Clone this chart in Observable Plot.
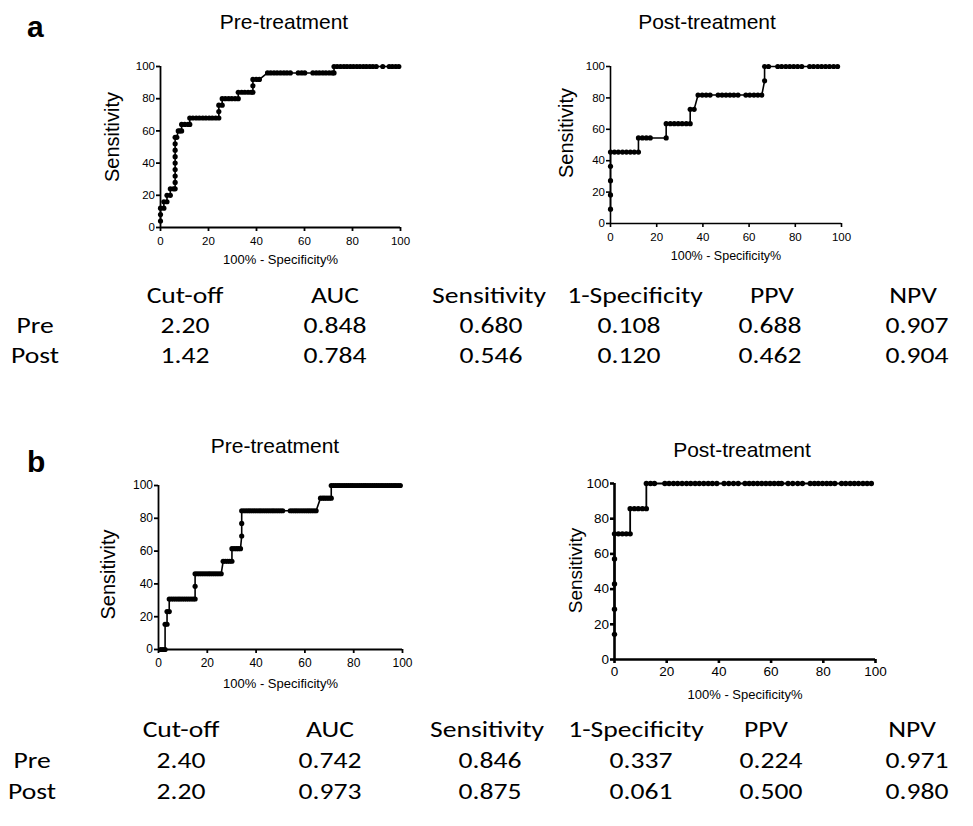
<!DOCTYPE html>
<html><head><meta charset="utf-8">
<script src="https://cdn.jsdelivr.net/npm/d3@7"></script>
<script src="https://cdn.jsdelivr.net/npm/@observablehq/plot@0.6"></script>
<style>
body{margin:0;background:#fff;}
#root{position:relative;width:973px;height:826px;overflow:hidden;font-family:"Liberation Sans",Arial,sans-serif;background:#fff;}
#root .pl{position:absolute;}
#overlay{position:absolute;left:0;top:0;pointer-events:none;}
</style></head><body><div id="root"></div>
<script>
// ---------------- DATA ----------------
const xTicks = [0, 20, 40, 60, 80, 100];
const yTicks = [0, 20, 40, 60, 80, 100];
const xLabel = "100% - Specificity%";
const yLabel = "Sensitivity";
const panelTitles = ["Pre-treatment", "Post-treatment"];
const panelLetters = ["a", "b"];

// ROC points [100% - Specificity%, Sensitivity%]
const rocPreA = [[0,4],[0,8],[0,12],[1.4,12],[1.4,16],[2.7,16],[2.7,20],[4.1,20],[4.1,24],[5.4,24],[6.1,24],[6.1,28],[6.1,32],[6.1,36],[6.1,40],[6.1,44],[6.1,48],[6.1,52],[6.1,56],[6.8,56],[7.4,60],[8.1,60],[8.8,60],[8.8,64],[10.1,64],[11.5,64],[12.2,64],[12.2,68],[13.5,68],[14.9,68],[16.2,68],[17.6,68],[18.9,68],[20.3,68],[21.6,68],[23.0,68],[24.3,68],[24.3,72],[24.3,76],[25.7,76],[25.7,80],[27.0,80],[28.4,80],[29.7,80],[31.1,80],[32.4,80],[32.4,84],[33.8,84],[35.1,84],[36.5,84],[37.8,84],[38.5,84],[38.5,88],[38.5,92],[39.9,92],[41.2,92],[44.6,96],[45.9,96],[47.3,96],[48.6,96],[50.0,96],[51.4,96],[52.7,96],[54.1,96],[57.4,96],[58.8,96],[60.1,96],[63.5,96],[64.9,96],[66.2,96],[67.6,96],[68.9,96],[70.3,96],[71.6,96],[72.3,96],[72.3,100],[73.6,100],[75.0,100],[76.4,100],[77.7,100],[79.1,100],[80.4,100],[81.8,100],[83.1,100],[84.5,100],[85.8,100],[87.2,100],[88.5,100],[89.9,100],[92.6,100],[95.3,100],[96.6,100],[98.0,100],[99.3,100]];

const rocPostA = [[0,9.1],[0,18.2],[0,27.3],[0,36.4],[0,45.5],[1.7,45.5],[3.4,45.5],[5.2,45.5],[6.9,45.5],[8.6,45.5],[10.3,45.5],[12.1,45.5],[12.1,54.5],[13.8,54.5],[15.5,54.5],[17.2,54.5],[24.1,54.5],[24.1,63.6],[25.9,63.6],[27.6,63.6],[29.3,63.6],[31.0,63.6],[32.8,63.6],[34.5,63.6],[34.5,72.7],[36.2,72.7],[37.9,81.8],[39.7,81.8],[41.4,81.8],[43.1,81.8],[46.6,81.8],[48.3,81.8],[50.0,81.8],[51.7,81.8],[53.4,81.8],[55.2,81.8],[58.6,81.8],[60.3,81.8],[62.1,81.8],[63.8,81.8],[65.5,81.8],[66.7,90.9],[66.7,100],[68.4,100],[72.4,100],[74.1,100],[75.9,100],[77.6,100],[79.3,100],[81.0,100],[82.8,100],[86.2,100],[87.9,100],[89.7,100],[91.4,100],[93.1,100],[94.8,100],[96.6,100],[98.3,100]];

const rocPreB = [[0.9,0],[1.8,0],[2.7,0],[2.7,15.4],[3.5,15.4],[3.5,23.1],[4.4,23.1],[4.4,30.8],[5.3,30.8],[6.2,30.8],[7.1,30.8],[8.0,30.8],[8.8,30.8],[9.7,30.8],[10.6,30.8],[11.5,30.8],[12.4,30.8],[13.3,30.8],[14.2,30.8],[15.0,30.8],[15.0,38.5],[15.0,46.2],[15.9,46.2],[16.8,46.2],[17.7,46.2],[18.6,46.2],[19.5,46.2],[20.4,46.2],[21.2,46.2],[22.1,46.2],[23.0,46.2],[23.9,46.2],[24.8,46.2],[25.7,46.2],[26.5,53.8],[27.4,53.8],[28.3,53.8],[29.2,53.8],[30.1,53.8],[30.1,61.5],[31.0,61.5],[31.9,61.5],[32.7,61.5],[33.6,61.5],[34.1,69.2],[34.1,76.9],[34.1,84.6],[35.0,84.6],[35.9,84.6],[36.8,84.6],[37.6,84.6],[38.5,84.6],[39.4,84.6],[40.3,84.6],[41.2,84.6],[42.0,84.6],[42.9,84.6],[43.8,84.6],[44.7,84.6],[45.6,84.6],[46.5,84.6],[47.3,84.6],[48.2,84.6],[49.1,84.6],[50.0,84.6],[50.9,84.6],[54.0,84.6],[54.9,84.6],[55.8,84.6],[56.6,84.6],[57.5,84.6],[58.4,84.6],[59.3,84.6],[60.2,84.6],[61.1,84.6],[61.9,84.6],[62.8,84.6],[63.7,84.6],[64.6,84.6],[66.4,92.3],[67.3,92.3],[68.1,92.3],[69.0,92.3],[69.9,92.3],[70.8,92.3],[70.8,100],[71.7,100],[72.6,100],[73.5,100],[74.3,100],[75.2,100],[76.1,100],[77.0,100],[77.9,100],[78.8,100],[79.6,100],[80.5,100],[81.4,100],[82.3,100],[83.2,100],[84.1,100],[84.9,100],[85.8,100],[86.7,100],[87.6,100],[88.5,100],[89.4,100],[90.3,100],[91.2,100],[92.0,100],[92.9,100],[93.8,100],[94.7,100],[95.6,100],[96.5,100],[97.3,100],[98.2,100],[99.1,100]];

const rocPostB = [[0,14.3],[0,28.6],[0,42.9],[0,57.1],[0,71.4],[1.5,71.4],[3.0,71.4],[4.5,71.4],[6.0,71.4],[6.0,85.7],[7.6,85.7],[9.1,85.7],[10.7,85.7],[12.2,85.7],[12.2,100],[13.8,100],[15.3,100],[19.3,100],[20.9,100],[22.6,100],[24.2,100],[25.9,100],[27.6,100],[29.2,100],[30.9,100],[32.5,100],[34.2,100],[35.9,100],[37.5,100],[39.2,100],[42.0,100],[43.8,100],[45.6,100],[47.4,100],[50.0,100],[51.6,100],[53.2,100],[54.8,100],[56.4,100],[58.0,100],[59.6,100],[61.2,100],[62.8,100],[64.0,100],[66.5,100],[68.3,100],[70.2,100],[72.0,100],[75.0,100],[76.6,100],[78.1,100],[79.7,100],[81.3,100],[82.8,100],[84.4,100],[87.0,100],[88.6,100],[90.3,100],[91.9,100],[93.5,100],[95.2,100],[96.8,100],[98.4,100]];

// Tables
const tableHeader = ["Cut-off", "AUC", "Sensitivity", "1-Specificity", "PPV", "NPV"];
const rowLabels = ["Pre", "Post"];
const tableA_pre  = ["2.20", "0.848", "0.680", "0.108", "0.688", "0.907"];
const tableA_post = ["1.42", "0.784", "0.546", "0.120", "0.462", "0.904"];
const tableB_pre  = ["2.40", "0.742", "0.846", "0.337", "0.224", "0.971"];
const tableB_post = ["2.20", "0.973", "0.875", "0.061", "0.500", "0.980"];

// ---------------- DRAWING ----------------
const FONT = '"Liberation Sans", Arial, Helvetica, sans-serif';
const root = document.getElementById("root");

function roc(data, o) {
  const p = Plot.plot({
    width: o.w, height: o.h,
    marginLeft: o.ml, marginRight: o.mr, marginTop: o.mt, marginBottom: o.mb,
    x: {domain: [0, 100]}, y: {domain: [0, 100]},
    style: {fontFamily: FONT, color: "#000", background: "transparent", overflow: "visible"},
    marks: [
      Plot.axisX({ticks: xTicks, tickSize: o.ts, tickPadding: o.tpx, fontSize: o.fs, label: null, strokeWidth: o.aw, tickFormat: d => String(d)}),
      Plot.axisY({ticks: yTicks, tickSize: o.ts, tickPadding: 1.5, fontSize: o.fs, label: null, strokeWidth: o.aw, tickFormat: d => String(d)}),
      Plot.ruleX([0], {stroke: "#000", strokeWidth: o.aw}),
      Plot.ruleY([0], {stroke: "#000", strokeWidth: o.aw}),
      Plot.line(data, {x: d => d[0], y: d => d[1], stroke: "#000", strokeWidth: o.lw}),
      Plot.dot(data, {x: d => d[0], y: d => d[1], r: o.r, fill: "#000", stroke: "none"}),
      Plot.text([yLabel], {text: d => d, frameAnchor: "left", textAnchor: "middle", lineAnchor: "middle", dx: o.ylx, dy: o.yly, rotate: -90, fontSize: o.yfs, fill: "#000"}),
      Plot.text([xLabel], {text: d => d, frameAnchor: "bottom", textAnchor: "middle", lineAnchor: "middle", dy: o.xly, fontSize: o.xfs, fill: "#000"})
    ]
  });
  p.classList.add("pl");
  p.style.left = o.left + "px";
  p.style.top = o.top + "px";
  root.appendChild(p);
}

// panel a, pre
roc(rocPreA, {left: 90, top: 40, w: 330, h: 240, ml: 70, mr: 20, mt: 26, mb: 53,
  ts: 4, tpx: 5, fs: 11.5, aw: 1.8, lw: 1.6, r: 2.6, ylx: -48, yly: -10, yfs: 20, xly: 32, xfs: 13});
// panel a, post
roc(rocPostA, {left: 540, top: 40, w: 320, h: 240, ml: 70, mr: 19, mt: 26, mb: 57,
  ts: 4, tpx: 5, fs: 11.5, aw: 1.6, lw: 1.6, r: 2.6, ylx: -44, yly: -12, yfs: 20, xly: 32, xfs: 12.5});
// panel b, pre
roc(rocPreB, {left: 90, top: 460, w: 330, h: 220, ml: 68, mr: 18, mt: 25, mb: 31,
  ts: 4, tpx: 5, fs: 12, aw: 1.8, lw: 1.6, r: 2.6, ylx: -50, yly: 7, yfs: 20, xly: 34, xfs: 13});
// panel b, post
roc(rocPostB, {left: 540, top: 460, w: 350, h: 245, ml: 74, mr: 15, mt: 23, mb: 46,
  ts: 4, tpx: 3, fs: 13.5, aw: 2.6, lw: 1.8, r: 2.7, ylx: -39, yly: -1, yfs: 19, xly: 35, xfs: 13});

// overlay text: titles, letters, tables
const svg = d3.select(root).append("svg").attr("id", "overlay")
  .attr("width", 973).attr("height", 826);

function txt(s, x, y, size, opts = {}) {
  const t = svg.append("text").text(s)
    .attr("text-anchor", opts.anchor || "middle")
    .attr("font-family", opts.family || FONT)
    .attr("font-size", size)
    .attr("font-weight", opts.weight || "normal")
    .attr("fill", "#000");
  if (opts.sx) {
    t.attr("transform", `translate(${x},${y}) scale(${opts.sx},1)`);
  } else {
    t.attr("x", x).attr("y", y);
  }
}

// panel letters
txt(panelLetters[0], 27, 37, 30, {anchor: "start", weight: "bold"});
txt(panelLetters[1], 27, 472, 30, {anchor: "start", weight: "bold"});
// panel titles
txt(panelTitles[0], 284, 29, 21);
txt(panelTitles[1], 707, 29, 21);
txt(panelTitles[0], 275, 453, 21);
txt(panelTitles[1], 742, 457, 21);

// tables
const TFONT = 'Carlito, Lato, "Open Sans", sans-serif';
function table(headerY, rowYs, labelX, colX, valX, rows) {
  const o = {family: TFONT, sx: 1.2};
  tableHeader.forEach((h, i) => txt(h, colX[i], headerY, 23, o));
  rows.forEach((r, j) => {
    txt(rowLabels[j], labelX, rowYs[j], 23, o);
    r.forEach((v, i) => txt(v, valX[i], rowYs[j], 23, o));
  });
}
table(303, [333, 363], 35, [185, 335, 489, 635, 772, 913], [185, 335, 491, 629, 770, 917], [tableA_pre, tableA_post]);
table(737, [768, 799], 32, [181, 330, 487, 636, 766, 912], [181, 330, 490, 641, 771, 917], [tableB_pre, tableB_post]);
</script>
</body></html>
